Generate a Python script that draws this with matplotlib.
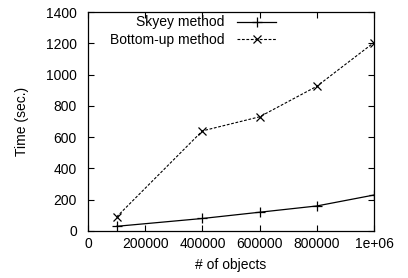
import matplotlib
matplotlib.use("Agg")
import matplotlib.pyplot as plt

plt.rcParams['font.family'] = ['Liberation Sans', 'DejaVu Sans']

n_objects = [100000, 400000, 600000, 800000, 1000000]
skyey = [30, 80, 120, 160, 230]
bottom_up = [90, 640, 730, 925, 1205]
xticks = [0, 200000, 400000, 600000, 800000, 1000000]
xticklabels = ["0", "200000", "400000", "600000", "800000", "1e+06"]
yticks = [0, 200, 400, 600, 800, 1000, 1200, 1400]

fs = 10
fig = plt.figure(figsize=(4.08, 2.78), dpi=100)
ax = fig.add_axes([88/408, 1-231/278, (374-88)/408, (231-12)/278])
ax.plot(n_objects, skyey, color='black', lw=0.9, marker='+', ms=6.5, mew=0.9, label='Skyey method')
ax.plot(n_objects, bottom_up, color='black', lw=0.8, ls=(0, (2.5, 1.5)), marker='x', ms=6, mew=0.9, label='Bottom-up method')
ax.set_xlim(0, 1000000)
ax.set_ylim(0, 1400)
ax.set_xticks(xticks)
ax.set_xticklabels(xticklabels)
ax.set_yticks(yticks)
ax.tick_params(direction='in', top=True, right=True, labelsize=fs, length=4, width=0.8)
ax.tick_params(axis='y', pad=8)
ax.tick_params(axis='x', pad=4)
for s in ax.spines.values():
    s.set_linewidth(0.9)
ax.set_xlabel('# of objects', fontsize=fs, labelpad=5)
ax.set_ylabel('Time (sec.)', fontsize=fs, labelpad=12)
ax.legend(loc='upper right', bbox_to_anchor=(0.67, 1.0), frameon=False, fontsize=fs,
          markerfirst=False, handlelength=2.8, handletextpad=0.9, labelspacing=0.25,
          borderaxespad=0, borderpad=0.25)
fig.savefig('out.png', dpi=100)
